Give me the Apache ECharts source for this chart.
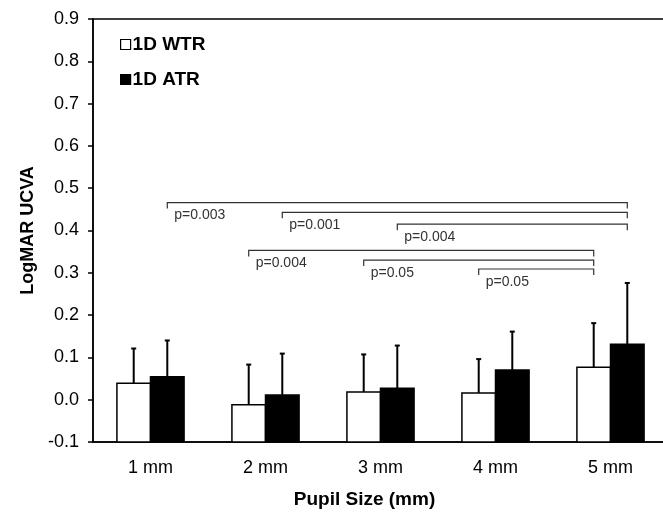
<!DOCTYPE html>
<html>
<head>
<meta charset="utf-8">
<script src="https://cdn.jsdelivr.net/npm/echarts@6/dist/echarts.min.js"></script>
<style>
  html, body { margin: 0; padding: 0; background: #fff; }
  #chart { width: 663px; height: 515px; }
</style>
</head>
<body>
<div id="chart"></div>
<script>
// values
const categories = ['1 mm', '2 mm', '3 mm', '4 mm', '5 mm'];
const wtrMean = [0.039, -0.012, 0.018, 0.016, 0.077];
const wtrErrTop = [0.121, 0.083, 0.107, 0.096, 0.181];
const atrMean = [0.054, 0.011, 0.027, 0.070, 0.131];
const atrErrTop = [0.140, 0.109, 0.128, 0.161, 0.276];

// significance brackets: from category -> to category, on which bar
const bracketFrom = [0, 1, 2, 1, 2, 3];
const bracketTo = [4, 4, 4, 4, 4, 4];
const bracketSide = ['ATR', 'ATR', 'ATR', 'WTR', 'WTR', 'WTR'];
const bracketY = [0.466, 0.443, 0.415, 0.353, 0.330, 0.309];
const bracketLabels = ['p=0.003', 'p=0.001', 'p=0.004', 'p=0.004', 'p=0.05', 'p=0.05'];

const Y_MIN = -0.1;
const Y_MAX = 0.9;
const BAR_FRAC = 0.292;
const FONT = '"Liberation Sans", Arial, sans-serif';

function barRenderer(side, fill) {
    return function (params, api) {
        const i = api.value(0);
        const band = api.size([1, 0])[0];
        const w = band * BAR_FRAC;
        const base = api.coord([i, Y_MIN]);
        const top = api.coord([i, api.value(1)]);
        const err = api.coord([i, api.value(2)]);
        const cx = base[0] + side * w / 2;
        return {
            type: 'group',
            children: [
                {
                    type: 'line',
                    shape: { x1: cx, y1: top[1], x2: cx, y2: err[1] },
                    style: { stroke: '#000', lineWidth: 2 }
                },
                {
                    type: 'line',
                    shape: { x1: cx - 2.5, y1: err[1], x2: cx + 2.5, y2: err[1] },
                    style: { stroke: '#000', lineWidth: 2 }
                },
                {
                    type: 'rect',
                    shape: { x: cx - w / 2, y: top[1], width: w, height: base[1] - top[1] },
                    style: { fill: fill, stroke: '#000', lineWidth: 1.5 }
                }
            ]
        };
    };
}

function renderBracket(params, api) {
    const k = params.dataIndex;
    const band = api.size([1, 0])[0];
    const shift = (bracketSide[k] === 'ATR' ? 1 : -1) * band * BAR_FRAC / 2;
    const a = api.coord([api.value(0), api.value(2)]);
    const b = api.coord([api.value(1), api.value(2)]);
    const x1 = a[0] + shift, x2 = b[0] + shift, y = a[1];
    return {
        type: 'group',
        children: [
            {
                type: 'polyline',
                shape: { points: [[x1, y + 6], [x1, y], [x2, y], [x2, y + 6]] },
                style: { stroke: '#333', fill: null, lineWidth: 1.2 }
            },
            {
                type: 'text',
                style: {
                    text: bracketLabels[k], x: x1 + 7, y: y + 6,
                    fontSize: 14, fontFamily: FONT, fill: '#333',
                    align: 'left', verticalAlign: 'top'
                }
            }
        ]
    };
}

const chart = echarts.init(document.getElementById('chart'));

chart.setOption({
    backgroundColor: '#fff',
    animation: false,
    grid: {
        left: 93, top: 19, right: -5, bottom: 73,
        outerBoundsMode: 'none',
        show: true, borderColor: '#000', borderWidth: 1.5
    },
    legend: {
        orient: 'vertical',
        left: 115, top: 30,
        itemWidth: 10, itemHeight: 10, itemGap: 16,
        textStyle: { fontSize: 19, fontWeight: 'bold', fontFamily: FONT, color: '#000', padding: [0, 0, 0, -3] },
        data: [
            { name: '1D WTR', icon: 'rect', itemStyle: { color: '#fff', borderColor: '#000', borderWidth: 1.2 } },
            { name: '1D ATR', icon: 'rect', itemStyle: { color: '#000', borderColor: '#000', borderWidth: 1.2 } }
        ]
    },
    xAxis: {
        type: 'category',
        data: categories,
        name: 'Pupil Size (mm)',
        nameLocation: 'middle',
        nameGap: 48,
        nameTextStyle: { fontSize: 19, fontWeight: 'bold', fontFamily: FONT, color: '#000', padding: [0, 32, 0, 0] },
        axisLine: { onZero: false, lineStyle: { color: '#000', width: 1.5 } },
        axisTick: { length: 5, lineStyle: { color: '#000', width: 1.5 } },
        axisLabel: { fontSize: 18, fontFamily: FONT, color: '#000', margin: 17 }
    },
    yAxis: {
        type: 'value',
        min: Y_MIN, max: Y_MAX, interval: 0.1,
        name: 'LogMAR UCVA',
        nameLocation: 'middle',
        nameGap: 50,
        nameTextStyle: { fontSize: 18, fontWeight: 'bold', fontFamily: FONT, color: '#000' },
        axisLine: { show: true, lineStyle: { color: '#000', width: 1.5 } },
        axisTick: { show: true, length: 5, lineStyle: { color: '#000', width: 1.5 } },
        splitLine: { show: false },
        axisLabel: {
            fontSize: 18, fontFamily: FONT, color: '#000', margin: 14,
            formatter: v => v.toFixed(1)
        }
    },
    series: [
        {
            name: '1D WTR',
            type: 'custom',
            renderItem: barRenderer(-1, '#fff'),
            itemStyle: { color: '#fff', borderColor: '#000' },
            encode: { x: 0, y: [1, 2] },
            data: categories.map((c, i) => [i, wtrMean[i], wtrErrTop[i]])
        },
        {
            name: '1D ATR',
            type: 'custom',
            renderItem: barRenderer(1, '#000'),
            itemStyle: { color: '#000' },
            encode: { x: 0, y: [1, 2] },
            data: categories.map((c, i) => [i, atrMean[i], atrErrTop[i]])
        },
        {
            name: 'brackets',
            type: 'custom',
            renderItem: renderBracket,
            encode: { x: [0, 1], y: 2 },
            data: bracketY.map((y, k) => [bracketFrom[k], bracketTo[k], y])
        }
    ]
});
</script>
</body>
</html>
